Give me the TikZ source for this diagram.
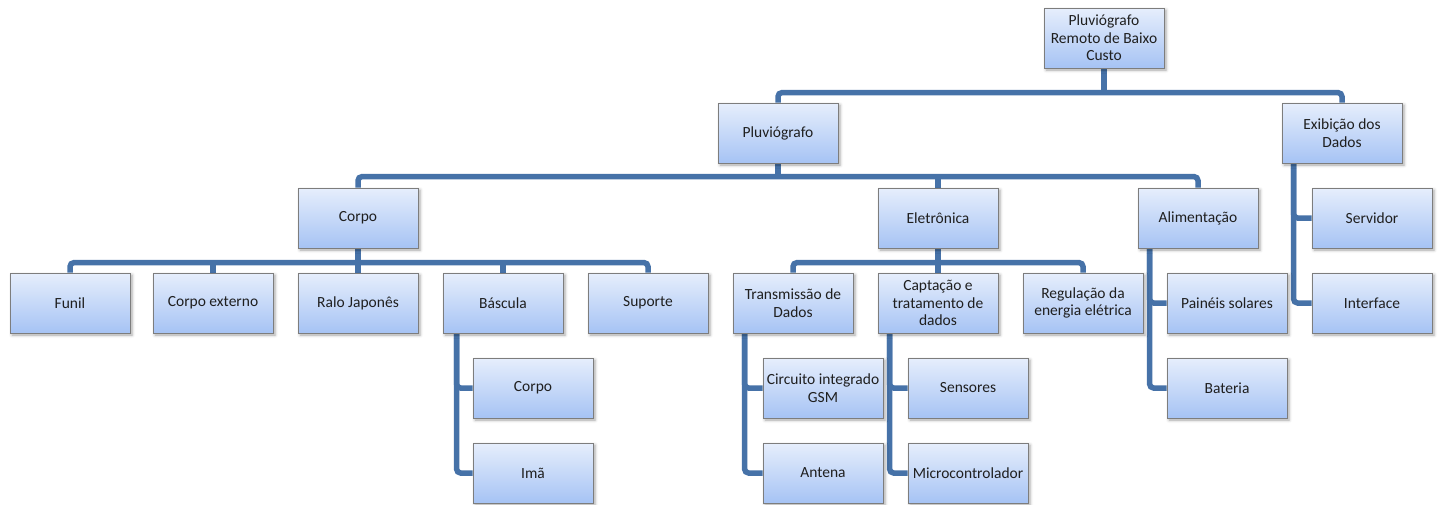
\documentclass[tikz,border=0pt]{standalone}
\usepackage{fontspec}
\setmainfont{Carlito}
\usetikzlibrary{calc,shadows.blur,backgrounds}
\definecolor{linkblue}{RGB}{70,114,168}
\definecolor{boxtop}{RGB}{230,238,252}
\definecolor{boxbot}{RGB}{166,195,244}
\definecolor{boxline}{RGB}{125,125,125}
\tikzset{
  box/.style={draw=boxline, line width=0.8pt, top color=boxtop, bottom color=boxbot,
    minimum width=120pt, minimum height=60pt, inner sep=0.5pt, align=center,
    font=\fontsize{15.5}{17.5}\selectfont, text=black!88,
    blur shadow={shadow xshift=2pt, shadow yshift=-2pt, shadow blur radius=3pt, shadow opacity=35}},
  link/.style={draw=linkblue, line width=5.5pt, rounded corners=4pt}
}
\begin{document}
\begin{tikzpicture}[x=1pt,y=-1pt]
\useasboundingbox (0,0) rectangle (1438,504);

% root and first level
\node[box] (root) at (1104,38) {Pluviógrafo\\Remoto de Baixo\\Custo};
\node[box] (pluv) at (778,133) {Pluviógrafo};
\node[box] (exib) at (1342,133) {Exibição dos\\Dados};

% second level
\node[box] (corpo) at (358,218) {Corpo};
\node[box] (elet) at (938,218) {Eletrônica};
\node[box] (alim) at (1198,218) {Alimentação};
\node[box] (serv) at (1372,218) {Servidor};
\node[box] (intf) at (1372,303) {Interface};

% parts of the body
\node[box] (funil) at (70,303) {Funil};
\node[box] (cext) at (213,303) {Corpo externo};
\node[box] (ralo) at (358,303) {Ralo Japonês};
\node[box] (basc) at (503,303) {Báscula};
\node[box] (sup) at (648,303) {Suporte};
\node[box] (bcorpo) at (533,388) {Corpo};
\node[box] (ima) at (533,473) {Imã};

% electronics
\node[box] (trans) at (793,303) {Transmissão de\\Dados};
\node[box] (capt) at (938,303) {Captação e\\tratamento de\\dados};
\node[box] (regul) at (1083,303) {Regulação da\\energia elétrica};
\node[box] (gsm) at (823,388) {Circuito integrado\\GSM};
\node[box] (ant) at (823,473) {Antena};
\node[box] (sens) at (968,388) {Sensores};
\node[box] (micro) at (968,473) {Microcontrolador};

% power supply
\node[box] (pain) at (1227,303) {Painéis solares};
\node[box] (bat) at (1227,388) {Bateria};

\begin{scope}[on background layer]
  % root bus
  \draw[link] (pluv.north) -- ++(0,-10) -| (exib.north);
  \draw[link] (root.south) -- ++(0,25);
  % second-level bus
  \draw[link] (corpo.north) -- ++(0,-11) -| (alim.north);
  \draw[link] (elet.north) -- ++(0,-11);
  \draw[link] (pluv.south) -- ++(0,14);
  % body bus
  \draw[link] (funil.north) -- ++(0,-10) -| (sup.north);
  \draw[link] (cext.north) -- ++(0,-10);
  \draw[link] (ralo.north) -- ++(0,-10);
  \draw[link] (basc.north) -- ++(0,-10);
  \draw[link] (corpo.south) -- ++(0,15);
  % electronics bus
  \draw[link] (trans.north) -- ++(0,-10) -| (regul.north);
  \draw[link] (capt.north) -- ++(0,-10);
  \draw[link] (elet.south) -- ++(0,15);
  % side branches
  \draw[link] ($(basc.south west)+(14,0)$) |- (ima.west);
  \draw[link] ($(basc.south west)+(14,0)$) |- (bcorpo.west);
  \draw[link] ($(trans.south west)+(12,0)$) |- (ant.west);
  \draw[link] ($(trans.south west)+(12,0)$) |- (gsm.west);
  \draw[link] ($(capt.south west)+(12,0)$) |- (micro.west);
  \draw[link] ($(capt.south west)+(12,0)$) |- (sens.west);
  \draw[link] ($(alim.south west)+(12,0)$) |- (bat.west);
  \draw[link] ($(alim.south west)+(12,0)$) |- (pain.west);
  \draw[link] ($(exib.south west)+(12,0)$) |- (intf.west);
  \draw[link] ($(exib.south west)+(12,0)$) |- (serv.west);
\end{scope}
\end{tikzpicture}
\end{document}
